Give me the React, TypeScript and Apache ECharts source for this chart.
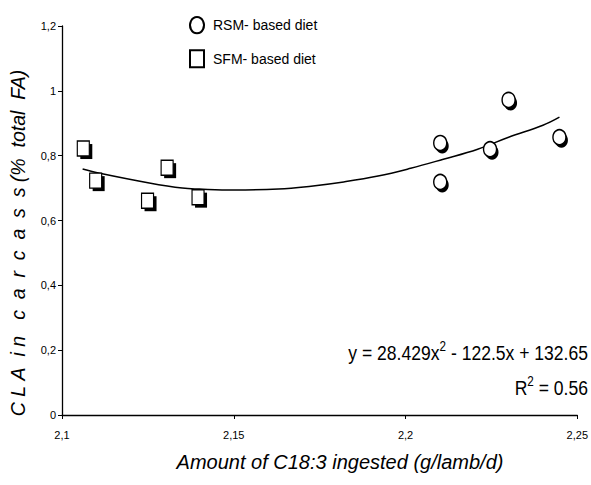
import React, { useEffect, useRef } from "react";
import * as echarts from "echarts";

const rsmX = [2.2101, 2.2101, 2.2246, 2.2300, 2.2448];
const rsmY = [0.839, 0.719, 0.820, 0.972, 0.857];
const sfmX = [2.1062, 2.1098, 2.1249, 2.1306, 2.1396];
const sfmY = [0.822, 0.723, 0.661, 0.763, 0.672];
const trendX = [2.106, 2.111, 2.1254, 2.135, 2.140, 2.150, 2.163, 2.1725, 2.182, 2.192, 2.2015, 2.211, 2.221, 2.230, 2.240, 2.2448];
const trendY = [0.759, 0.746, 0.716, 0.700, 0.697, 0.694, 0.697, 0.706, 0.719, 0.737, 0.761, 0.789, 0.820, 0.857, 0.894, 0.919];
const xTicks = [2.1, 2.15, 2.2, 2.25];
const yTicks = [0, 0.2, 0.4, 0.6, 0.8, 1, 1.2];
const legendNames = ["RSM- based diet", "SFM- based diet"];
const equationText = "y = 28.429x{sup|2} - 122.5x + 132.65";
const r2Text = "R{sup|2} = 0.56";
const xTitle = "Amount of C18:3 ingested (g/lamb/d)";
const yTitle = "C L A  i n   c  a  r  c  a  s  s (%  total  FA)";

const FONT = '"Liberation Sans", Arial, sans-serif';

export default function App() {
  const ref = useRef<HTMLDivElement>(null);
  useEffect(() => {
    const chart = echarts.init(ref.current!, null, { renderer: "svg" });
    const fmt = (v: number) => String(Math.round(v * 100) / 100).replace(".", ",");
    chart.setOption({
      animation: false,
      backgroundColor: "#ffffff",
      grid: { left: 62, right: 10, top: 26, bottom: 70, containLabel: false },
      xAxis: {
        type: "value",
        min: 2.1,
        max: 2.25,
        interval: 0.05,
        axisLine: { lineStyle: { color: "#000", width: 1.3 } },
        axisTick: { show: true, length: 4, lineStyle: { color: "#000" } },
        splitLine: { show: false },
        axisLabel: {
          color: "#000",
          fontFamily: FONT,
          fontSize: 11,
          margin: 14,
          formatter: (v: number) => (xTicks.some((t) => Math.abs(t - v) < 1e-6) ? fmt(v) : ""),
        },
      },
      yAxis: {
        type: "value",
        min: 0,
        max: 1.2,
        interval: 0.2,
        axisLine: { show: true, lineStyle: { color: "#000", width: 1.3 } },
        axisTick: { show: true, length: 4, lineStyle: { color: "#000" } },
        splitLine: { show: false },
        axisLabel: {
          color: "#000",
          fontFamily: FONT,
          fontSize: 11,
          margin: 6,
          formatter: (v: number) => (yTicks.some((t) => Math.abs(t - v) < 1e-6) ? fmt(v) : ""),
        },
      },
      legend: {
        orient: "vertical",
        left: 189,
        top: 16,
        padding: 0,
        itemGap: 15,
        itemWidth: 14,
        itemHeight: 17,
        textStyle: { color: "#000", fontFamily: FONT, fontSize: 14, padding: [2, 0, 0, 4] },
        data: [
          { name: legendNames[0], icon: "path://M6,0 A6,7 0 1,1 5.99,0 Z" },
          { name: legendNames[1], icon: "rect" },
        ],
      },
      series: [
        {
          type: "line",
          data: trendX.map((x, i) => [x, trendY[i]]),
          smooth: 0.4,
          showSymbol: false,
          lineStyle: { color: "#000", width: 1.5 },
          z: 1,
          silent: true,
        },
        {
          name: "sfm-shadow",
          type: "scatter",
          data: sfmX.map((x, i) => [x, sfmY[i]]),
          symbol: "rect",
          symbolSize: [12, 15],
          symbolOffset: [3, 3],
          itemStyle: { color: "#000", opacity: 1 },
          z: 2,
          silent: true,
        },
        {
          name: legendNames[1],
          type: "scatter",
          data: sfmX.map((x, i) => [x, sfmY[i]]),
          symbol: "rect",
          symbolSize: [12, 15],
          itemStyle: { color: "#fff", borderColor: "#000", borderWidth: 1.3, opacity: 1 },
          z: 3,
        },
        {
          name: "rsm-shadow",
          type: "scatter",
          data: rsmX.map((x, i) => [x, rsmY[i]]),
          symbol: "circle",
          symbolSize: [13, 15],
          symbolOffset: [2, 3],
          itemStyle: { color: "#000", opacity: 1 },
          z: 2,
          silent: true,
        },
        {
          name: legendNames[0],
          type: "scatter",
          data: rsmX.map((x, i) => [x, rsmY[i]]),
          symbol: "circle",
          symbolSize: [13, 15],
          itemStyle: { color: "#fff", borderColor: "#000", borderWidth: 1.5, opacity: 1 },
          z: 3,
        },
      ],
      graphic: [
        {
          type: "text",
          x: 18,
          y: 243,
          rotation: Math.PI / 2,
          style: {
            text: yTitle.replace(/ /g, "\u00A0"),
            fill: "#000",
            font: `italic 19.5px ${FONT}`,
            textAlign: "center",
            textVerticalAlign: "middle",
          },
        },
        {
          type: "text",
          x: 340,
          y: 462,
          style: {
            text: xTitle,
            fill: "#000",
            font: `italic 20px ${FONT}`,
            textAlign: "center",
            textVerticalAlign: "middle",
          },
        },
        {
          type: "text",
          x: 588,
          y: 352,
          scaleX: 0.975,
          scaleY: 1.17,
          style: {
            text: equationText,
            fill: "#000",
            font: `18px ${FONT}`,
            textAlign: "right",
            textVerticalAlign: "middle",
            rich: {
              sup: { fontSize: 12, fontFamily: FONT, fill: "#000", padding: [0, 0, 10, 0] },
            },
          },
        },
        {
          type: "text",
          x: 588,
          y: 387,
          scaleX: 0.975,
          scaleY: 1.17,
          style: {
            text: r2Text,
            fill: "#000",
            font: `18px ${FONT}`,
            textAlign: "right",
            textVerticalAlign: "middle",
            rich: {
              sup: { fontSize: 12, fontFamily: FONT, fill: "#000", padding: [0, 0, 10, 0] },
            },
          },
        },
      ],
    });
    return () => chart.dispose();
  }, []);
  return <div ref={ref} style={{ width: 591, height: 485, position: "absolute", left: 0, top: 0 }} />;
}
